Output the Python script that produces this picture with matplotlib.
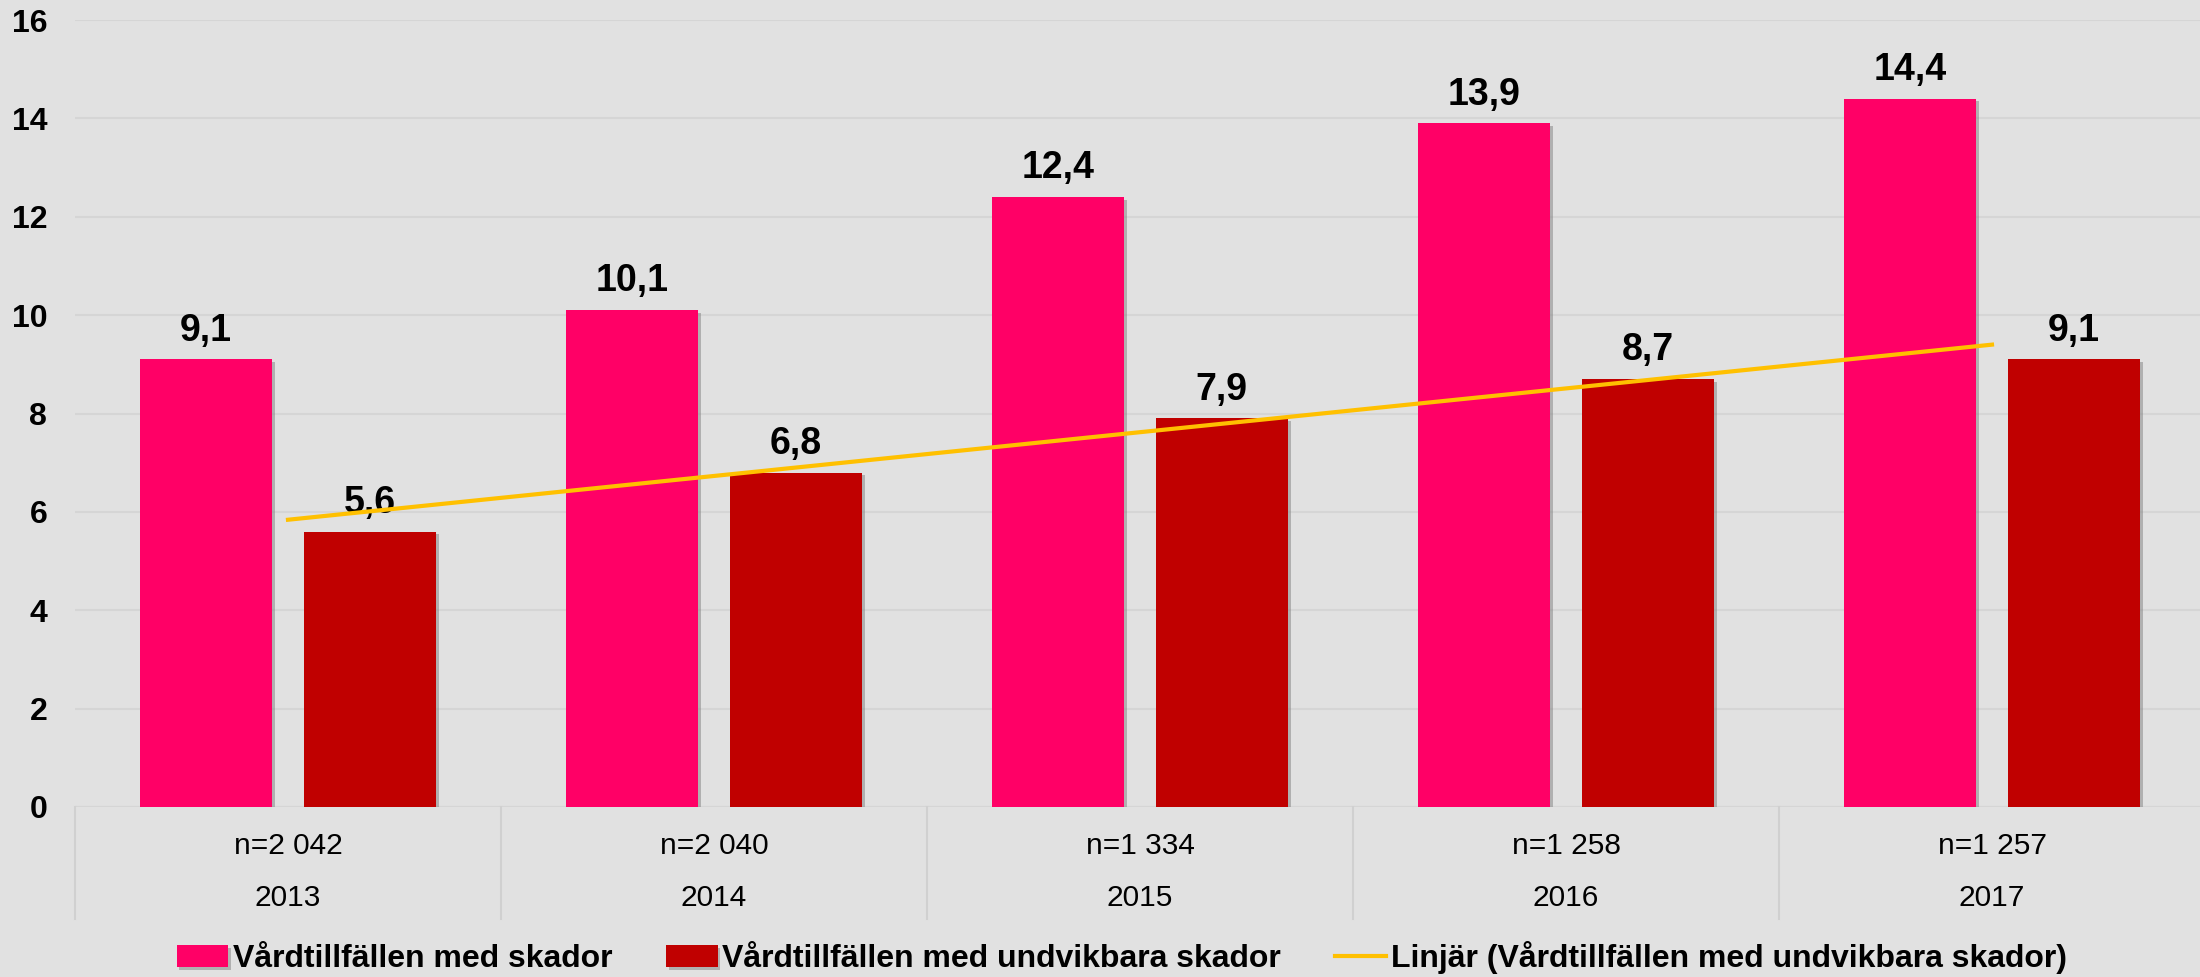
import numpy as np
import matplotlib
matplotlib.use("Agg")
import matplotlib.pyplot as plt
import matplotlib.transforms as mtransforms
from matplotlib import patheffects as pe

plt.rcParams['font.family'] = ['Liberation Sans', 'DejaVu Sans']

years = ["2013", "2014", "2015", "2016", "2017"]
n_labels = ["n=2 042", "n=2 040", "n=1 334", "n=1 258", "n=1 257"]
skador = [9.1, 10.1, 12.4, 13.9, 14.4]
undvikbara = [5.6, 6.8, 7.9, 8.7, 9.1]

pink = '#ff0066'
darkred = '#c00000'
trend_col = '#ffc000'
bg = '#e1e1e1'
grid_col = '#d5d5d5'

fig = plt.figure(figsize=(22, 9.77), dpi=100, facecolor=bg)
ax = fig.add_axes([75 / 2200, 170 / 977, 2130 / 2200, 787 / 977])
ax.set_facecolor(bg)

x = np.arange(len(years))
off = 0.192
w = 0.31
shadow = [pe.SimplePatchShadow(offset=(2, -2), shadow_rgbFace='#808080', alpha=0.5), pe.Normal()]
b1 = ax.bar(x - off, skador, w, color=pink, zorder=2, path_effects=shadow,
            label='Vårdtillfällen med skador')
b2 = ax.bar(x + off, undvikbara, w, color=darkred, zorder=2, path_effects=shadow,
            label='Vårdtillfällen med undvikbara skador')

# value labels
for xs, vals in ((x - off, skador), (x + off, undvikbara)):
    for xi, v in zip(xs, vals):
        ax.annotate(f"{v:.1f}".replace('.', ','), (xi, v), xytext=(0, 13.5),
                    textcoords='offset points', ha='center', va='baseline',
                    fontsize=27, fontweight='bold', zorder=3)

# linear trendline of the second series (Excel style)
k, m = np.polyfit(x, undvikbara, 1)
ax.plot(x, k * x + m, color=trend_col, lw=3, zorder=4,
        label='Linjär (Vårdtillfällen med undvikbara skador)')

ax.set_xlim(-0.5, len(years) - 0.5)
ax.set_ylim(0, 16)
ax.set_yticks(range(0, 17, 2))
ax.set_xticks([])
ax.tick_params(axis='y', length=0, pad=20, labelsize=23)
for t in ax.get_yticklabels():
    t.set_fontweight('bold')
ax.yaxis.grid(True, color=grid_col, lw=1.5, zorder=0)
for s in ax.spines.values():
    s.set_visible(False)
ax.axhline(0, color='#cfcfcf', lw=1.5, zorder=1)

# category labels and separators below the axis
trans = mtransforms.blended_transform_factory(ax.transData, ax.transAxes)
for i in range(len(years)):
    ax.text(i, -0.05, n_labels[i], transform=trans, ha='center', va='center', fontsize=21.5)
    ax.text(i, -0.116, years[i], transform=trans, ha='center', va='center', fontsize=21.5)
for b in np.arange(-0.5, len(years) + 0.5, 1):
    ax.plot([b, b], [0, -0.142], transform=trans, color='#d0d0d0', lw=1.5, clip_on=False)

leg = fig.legend(handles=[b1, b2, ax.lines[0]], loc='center', bbox_to_anchor=(0.51, 0.0195),
                 ncol=3, frameon=False, handlelength=1.6, handletextpad=0.15,
                 columnspacing=1.7, prop={'size': 23, 'weight': 'bold'})

fig.savefig('out.png', dpi=100, facecolor=bg)
